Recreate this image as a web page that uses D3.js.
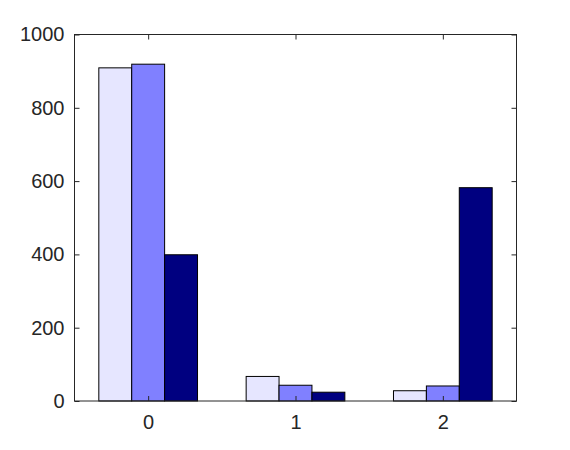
<!DOCTYPE html>
<html><head><meta charset="utf-8">
<script src="https://cdn.jsdelivr.net/npm/d3@7"></script>
<style>body{margin:0;background:#fff;}</style>
</head><body>
<svg id="c" width="570" height="450"></svg>
<script>
const categories = ["0", "1", "2"];
const series1 = [909, 67, 28];
const series2 = [919, 43, 41];
const series3 = [399, 24, 582];
const colors = ["#e6e6ff", "#8080ff", "#000080"];
const yTicks = [0, 200, 400, 600, 800, 1000];

const svg = d3.select("#c");
const L = 74.5, R = 516.5, T = 34.5, B = 401;
const x = d3.scaleLinear().domain([-0.5, 2.5]).range([L, R]);
const y = d3.scaleLinear().domain([0, 1000]).range([B, T]);
const series = [series1, series2, series3];
const bw = 0.2233;

const g = svg.append("g");
series.forEach((s, si) => {
  g.selectAll(null).data(s).enter().append("rect")
    .attr("x", (d, i) => x(i + (si - 1.5) * bw))
    .attr("width", x(bw) - x(0))
    .attr("y", d => y(d))
    .attr("height", d => y(0) - y(d))
    .attr("fill", colors[si])
    .attr("stroke", "#000")
    .attr("stroke-width", 1);
});

const tc = "#262626";
const font = "'Liberation Sans', Arial, Helvetica, sans-serif";
svg.append("rect").attr("x", L).attr("y", T).attr("width", R - L).attr("height", B - T)
  .attr("fill", "none").attr("stroke", tc).attr("stroke-width", 1);

const yAxisL = d3.axisLeft(y).tickValues(yTicks).tickFormat(d3.format("d")).tickSizeInner(-5).tickSizeOuter(0).tickPadding(10);
const gl = svg.append("g").attr("transform", `translate(${L},0)`).call(yAxisL);
const yAxisR = d3.axisRight(y).tickValues(yTicks).tickSizeInner(-5).tickSizeOuter(0).tickFormat("");
const gr = svg.append("g").attr("transform", `translate(${R},0)`).call(yAxisR);
const xAxisB = d3.axisBottom(x).tickValues([0, 1, 2]).tickFormat((d) => categories[d]).tickSizeInner(-5).tickSizeOuter(0).tickPadding(14);
const gb = svg.append("g").attr("transform", `translate(0,${B})`).call(xAxisB);
const xAxisT = d3.axisTop(x).tickValues([0, 1, 2]).tickFormat("").tickSizeInner(-5).tickSizeOuter(0);
const gt = svg.append("g").attr("transform", `translate(0,${T})`).call(xAxisT);

[gl, gr, gb, gt].forEach(a => {
  a.attr("font-size", null).attr("font-family", null);
  a.select(".domain").remove();
  a.selectAll("line").attr("stroke", tc);
  a.selectAll("text").attr("fill", tc).attr("font-family", font).attr("font-size", 20);
});
</script>
</body></html>
